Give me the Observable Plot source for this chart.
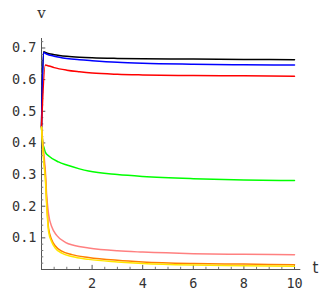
<!DOCTYPE html>
<html><head><meta charset="utf-8">
<script src="https://cdn.jsdelivr.net/npm/d3@7"></script>
<script src="https://cdn.jsdelivr.net/npm/@observablehq/plot@0.6"></script>
<style>body{margin:0;background:#fff}</style>
</head><body><div id="chart"></div>
<script>
// Series (t, v)
const blackT = [0, 0.08, 0.2, 0.5, 1, 1.5, 2, 3, 4, 6, 8, 10];
const blackV = [0.45, 0.688, 0.684, 0.679, 0.674, 0.671, 0.669, 0.667, 0.666, 0.665, 0.664, 0.663];
const blueT = [0, 0.08, 0.2, 0.5, 1, 1.5, 2, 3, 4, 6, 8, 10];
const blueV = [0.45, 0.686, 0.681, 0.674, 0.667, 0.663, 0.660, 0.655, 0.652, 0.649, 0.647, 0.646];
const redT = [0, 0.15, 0.3, 0.5, 1, 1.5, 2, 3, 4, 6, 8, 10];
const redV = [0.45, 0.646, 0.643, 0.638, 0.630, 0.625, 0.621, 0.617, 0.615, 0.613, 0.612, 0.611];
const greenT = [0, 0.05, 0.1, 0.15, 0.3, 0.67, 1, 1.5, 1.86, 3, 4, 6, 8, 10];
const greenV = [0.45, 0.40, 0.385, 0.371, 0.358, 0.340, 0.330, 0.318, 0.311, 0.300, 0.294, 0.287, 0.283, 0.281];
const pinkT = [0, 0.1, 0.15, 0.2, 0.28, 0.41, 0.6, 0.94, 1.3, 1.86, 3, 4, 6, 8, 10];
const pinkV = [0.45, 0.36, 0.315, 0.24, 0.175, 0.134, 0.108, 0.086, 0.076, 0.068, 0.059, 0.055, 0.050, 0.048, 0.047];
const orangeT = [0, 0.1, 0.15, 0.2, 0.28, 0.4, 0.54, 0.8, 1.2, 1.86, 3, 4, 6, 8, 10];
const orangeV = [0.45, 0.34, 0.30, 0.22, 0.13, 0.095, 0.075, 0.058, 0.047, 0.038, 0.029, 0.024, 0.019, 0.017, 0.015];
const yellowT = [0, 0.1, 0.15, 0.2, 0.28, 0.4, 0.54, 0.8, 1.2, 1.86, 3, 4, 6, 8, 10];
const yellowV = [0.45, 0.33, 0.29, 0.21, 0.12, 0.088, 0.068, 0.052, 0.041, 0.032, 0.024, 0.019, 0.014, 0.012, 0.010];

const seriesNames = ["s1", "s2", "s3", "s4", "s5", "s6", "s7"];
const seriesColors = ["#000000", "#0000ff", "#ff0000", "#00ff00", "#ff8080", "#ff8000", "#ffe600"];
const seriesT = [blackT, blueT, redT, greenT, pinkT, orangeT, yellowT];
const seriesV = [blackV, blueV, redV, greenV, pinkV, orangeV, yellowV];

const xTicks = [2, 4, 6, 8, 10];
const xTickLabels = ["2", "4", "6", "8", "10"];
const yTicks = [0.1, 0.2, 0.3, 0.4, 0.5, 0.6, 0.7];
const yTickLabels = ["0.1", "0.2", "0.3", "0.4", "0.5", "0.6", "0.7"];
const xMinor = d3.range(0.5, 10.01, 0.5).filter(d => Math.abs(d % 2) > 1e-6);
const yMinor = d3.range(0.02, 0.721, 0.02).filter(d => Math.abs(Math.round(d * 10) - d * 10) > 1e-6);

const rows = [];
seriesNames.forEach((s, i) => seriesT[i].forEach((t, j) => rows.push({s, t, v: seriesV[i][j]})));

const font = "DejaVu Sans Mono";
const chart = Plot.plot({
  width: 333, height: 291,
  marginLeft: 41, marginRight: 39, marginTop: 38, marginBottom: 22,
  style: {background: "#fff", fontFamily: font, fontSize: "13.5px", color: "#333"},
  x: {domain: [0, 10], axis: null},
  y: {domain: [0, 0.73], axis: null},
  color: {type: "ordinal", domain: seriesNames, range: seriesColors},
  marks: [
    Plot.ruleY([0], {x1: 0, x2: 10.25, stroke: "#555", strokeWidth: 1}),
    Plot.ruleX([0], {y1: 0, y2: 0.73, stroke: "#555", strokeWidth: 1}),
    Plot.ruleX(xTicks, {x: d => d, y1: 0, y2: 0.013, stroke: "#555"}),
    Plot.ruleX(xMinor, {x: d => d, y1: 0, y2: 0.007, stroke: "#777"}),
    Plot.ruleY(yTicks, {y: d => d, x1: 0, x2: 0.17, stroke: "#555"}),
    Plot.ruleY(yMinor, {y: d => d, x1: 0, x2: 0.09, stroke: "#777"}),
    Plot.text(xTicks, {x: d => d, y: 0, text: (d, i) => xTickLabels[i], dy: 14, fill: "#333"}),
    Plot.text(yTicks, {x: 0, y: d => d, text: (d, i) => yTickLabels[i], textAnchor: "end", dx: -5, fill: "#333"}),
    Plot.line(rows, {x: "t", y: "v", z: "s", stroke: "s", strokeWidth: 1.5, curve: "monotone-x"}),
    Plot.text(["v"], {x: 0, y: 0.73, text: d => d, dy: -25, fontSize: 15, fontFamily: "DejaVu Serif", fill: "#333"}),
    Plot.text(["t"], {x: 10, y: 0, text: d => d, dx: 21, dy: -1, fontSize: 15, fontFamily: "DejaVu Sans", fill: "#333"})
  ]
});
document.getElementById("chart").appendChild(chart);
</script>
</body></html>
